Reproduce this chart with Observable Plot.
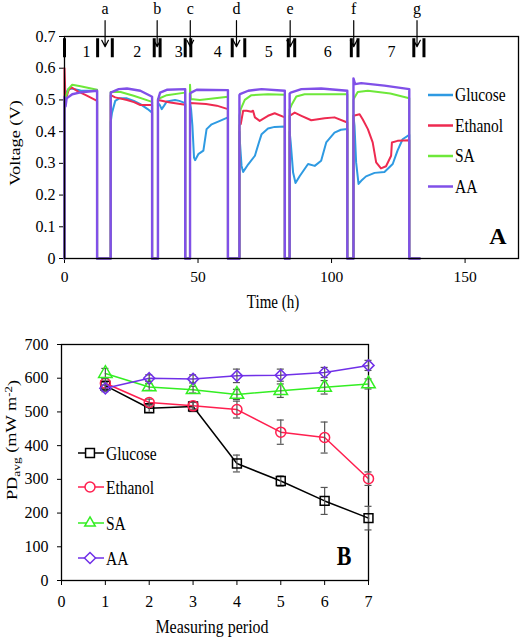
<!DOCTYPE html>
<html><head><meta charset="utf-8">
<script src="https://cdn.jsdelivr.net/npm/d3@7"></script>
<script src="https://cdn.jsdelivr.net/npm/@observablehq/plot@0.6"></script>
<style>
body{margin:0;background:#fff;}
#chart{width:520px;}
svg{display:block;}
#chart svg text, #chart svg tspan{font-family:"Liberation Serif","Times New Roman",serif !important;}
</style>
</head><body><div id="chart"></div>
<script>
const seriesNames = ["Glucose", "Ethanol", "SA", "AA"];
const topColors = ["#2e9ae2", "#ee2a50", "#6ee83a", "#8050e8"];
const bottomColors = ["#000000", "#ff1f4f", "#33ee22", "#7030e8"];

// ---- Panel A: voltage vs time ----
const timeTicks = [0, 50, 100, 150];
const voltTicks = [0, 0.1, 0.2, 0.3, 0.4, 0.5, 0.6, 0.7];
const periodStart = [0, 17.3, 35.0, 47.0, 65.5, 84.3, 108.2];
const periodEnd = [12.2, 32.8, 45.2, 61.2, 82.5, 105.9, 129.1];
const tailEnd = 133;

const glucoseV = [
  [0,0.50],[0.5,0.52],[1.5,0.535],[3,0.535],[6,0.53],[12.2,0.528],
  [17.3,0.43],[17.8,0.46],[19.0,0.497],[20.5,0.505],[23.4,0.505],[26,0.497],[28.4,0.487],[31,0.472],[32.8,0.46],
  [35.0,0.49],[35.6,0.485],[36.4,0.471],[37.3,0.482],[38.3,0.495],[41.4,0.50],[43,0.497],[45.2,0.49],
  [47.0,0.49],[47.4,0.47],[47.9,0.418],[48.5,0.318],[48.9,0.31],[50.1,0.329],[52.0,0.34],[53.2,0.408],[55.1,0.423],[58.2,0.434],[61.2,0.445],
  [65.5,0.40],[65.7,0.366],[66.3,0.292],[66.9,0.273],[68.8,0.297],[71.3,0.324],[72.8,0.366],[73.8,0.392],[76.2,0.41],[78.7,0.415],[82.5,0.416],
  [84.3,0.40],[84.7,0.366],[85.6,0.271],[86.5,0.238],[88.1,0.26],[91.2,0.298],[93.7,0.292],[96.1,0.308],[98.0,0.366],[101.1,0.397],[103.5,0.406],[105.9,0.408],
  [108.2,0.45],[108.6,0.418],[109.2,0.303],[110.1,0.235],[111.1,0.245],[112.9,0.259],[116.1,0.27],[119.8,0.273],[122.9,0.298],[124.7,0.34],[126.6,0.376],[129.1,0.39]
];
const ethanolV = [
  [0,0.60],[0.3,0.52],[0.8,0.51],[1.5,0.53],[2.6,0.54],[5,0.527],[8,0.515],[12.2,0.497],
  [17.3,0.515],[19,0.508],[23.4,0.50],[26,0.493],[28.4,0.484],[32.8,0.484],
  [35.0,0.50],[39.6,0.492],[45.2,0.485],
  [47.0,0.49],[53,0.487],[57.0,0.482],[61.2,0.471],
  [65.5,0.42],[66.0,0.424],[66.9,0.466],[68.2,0.466],[70.0,0.463],[70.6,0.466],[71.3,0.445],[73.1,0.434],[76.2,0.45],[78.7,0.458],[82.5,0.445],
  [84.3,0.45],[86.2,0.46],[88.7,0.45],[92.4,0.436],[97.4,0.442],[101.1,0.445],[105.9,0.429],
  [108.2,0.45],[110.5,0.455],[111.7,0.438],[113.6,0.408],[115.4,0.366],[116.7,0.303],[118.5,0.284],[120.4,0.291],[122.3,0.324],[122.6,0.366],[124.7,0.371],[129.1,0.373]
];
const saV = [
  [0,0.50],[0.5,0.51],[1.5,0.535],[2.9,0.548],[6,0.543],[12.2,0.532],
  [17.3,0.525],[21,0.525],[25.9,0.513],[32.8,0.494],
  [35.0,0.503],[38.3,0.515],[45.2,0.523],
  [47.0,0.548],[47.3,0.503],[50.7,0.50],[61.2,0.51],
  [65.5,0.45],[66.0,0.471],[67.5,0.50],[70.0,0.515],[76.2,0.518],[82.5,0.516],
  [84.3,0.47],[85.0,0.484],[86.8,0.511],[89.9,0.518],[105.9,0.518],
  [108.2,0.50],[108.6,0.508],[109.8,0.525],[113.6,0.529],[122,0.52],[129.1,0.505]
];
const aaV = [
  [0,0.51],[0.4,0.48],[0.8,0.505],[2.9,0.518],[6,0.524],[12.2,0.529],
  [17.3,0.523],[20.3,0.534],[23.4,0.536],[28.4,0.529],[32.1,0.513],[32.8,0.51],
  [35.0,0.50],[35.8,0.523],[38.3,0.532],[45.2,0.534],
  [47.0,0.52],[47.4,0.523],[49.5,0.532],[61.2,0.531],
  [65.5,0.515],[65.7,0.518],[68.8,0.529],[73.8,0.534],[82.5,0.529],
  [84.3,0.52],[84.7,0.523],[88.7,0.534],[96.1,0.536],[105.9,0.529],
  [108.2,0.568],[108.8,0.55],[111.1,0.553],[119.8,0.545],[129.1,0.534]
];
const letterLabels = ["a", "b", "c", "d", "e", "f", "g"];
const letterTimes = [15.2, 34.7, 47.1, 64.4, 84.5, 108.3, 132];
const periodLabels = ["1", "2", "3", "4", "5", "6", "7"];
const periodLabelTimes = [8.2, 27.2, 42.8, 57.4, 76.5, 98.6, 122.4];
const barTimes = [0, 12.4, 17.9, 33.6, 35.8, 45.2, 47.3, 62.8, 67.5, 83.8, 86.2, 107.4, 109.9, 130.8, 134.6];

// ---- Panel B: average power density ----
const periods = [1, 2, 3, 4, 5, 6, 7];
const periodTicks = [0, 1, 2, 3, 4, 5, 6, 7];
const pdTicks = [0, 100, 200, 300, 400, 500, 600, 700];
const glucosePD = [578, 511, 516, 347, 295, 236, 185];
const ethanolPD = [585, 528, 518, 507, 440, 424, 302];
const saPD = [614, 574, 566, 552, 563, 573, 583];
const aaPD = [570, 600, 598, 607, 609, 617, 638];
const glucoseErr = [10, 12, 15, 25, 15, 40, 35];
const ethanolErr = [15, 10, 10, 25, 36, 46, 20];
const saErr = [15, 10, 10, 15, 20, 20, 15];
const aaErr = [10, 10, 12, 20, 18, 15, 15];
const symbols = ["square", "circle", "triangle", "diamond2"];

function buildTrace(pts) {
  const out = [];
  periodStart.forEach((s, i) => {
    const e = periodEnd[i];
    out.push({t: s, v: 0});
    pts.filter(p => p[0] >= s && p[0] <= e).forEach(p => out.push({t: p[0], v: p[1]}));
    out.push({t: e, v: 0});
  });
  out.push({t: tailEnd, v: 0});
  return out;
}
const traces = [glucoseV, ethanolV, saV, aaV].map(buildTrace);

const topSvg = Plot.plot({
  width: 520, height: 320,
  marginLeft: 64, marginRight: 2, marginTop: 36, marginBottom: 62,
  style: {fontSize: "16px", color: "#000", background: "#fff", overflow: "visible"},
  x: {domain: [0, 170]},
  y: {domain: [0, 0.7]},
  marks: [
    Plot.axisX({ticks: timeTicks, tickSize: 5, tickPadding: 7, label: null, fontSize: 15.5}),
    Plot.axisY({ticks: voltTicks, tickSize: 5, tickPadding: 4, tickFormat: d3.format("~g"), label: null, fontSize: 16}),
    ...traces.map((tr, i) => Plot.line(tr, {x: "t", y: "v", stroke: topColors[i], strokeWidth: i === 3 ? 2.4 : 2})),
    Plot.frame({stroke: "#000", strokeWidth: 1.3}),
    Plot.ruleX(barTimes, {x: d => d, y1: d => 0.693, y2: d => 0.633, stroke: "#000", strokeWidth: 3}),
    Plot.arrow(letterTimes, {x1: d => d, x2: d => d, y1: d => 0.75, y2: d => 0.668, stroke: "#000", strokeWidth: 1.2, headLength: 9, headAngle: 55}),
    Plot.text(letterTimes, {x: d => d, frameAnchor: "top", lineAnchor: "middle", dy: -28, text: (d, i) => letterLabels[i], fontSize: 16}),
    Plot.text(periodLabelTimes, {x: d => d, y: d => 0.652, text: (d, i) => periodLabels[i], fontSize: 16})
  ]
});

const rows = [];
[glucosePD, ethanolPD, saPD, aaPD].forEach((vals, si) => {
  const errs = [glucoseErr, ethanolErr, saErr, aaErr][si];
  vals.forEach((v, i) => rows.push({s: si, p: periods[i], v, e: errs[i]}));
});
const seriesMarks = [];
[0, 1, 2, 3].forEach(si => {
  const d = rows.filter(r => r.s === si);
  seriesMarks.push(
    Plot.line(d, {x: "p", y: "v", stroke: bottomColors[si], strokeWidth: 1.5}),
    Plot.ruleX(d, {x: "p", y1: r => r.v - r.e, y2: r => r.v + r.e, stroke: "#555", strokeWidth: 1.2}),
    Plot.ruleY(d, {y: r => r.v + r.e, x1: r => r.p - 0.08, x2: r => r.p + 0.08, stroke: "#555", strokeWidth: 1.2}),
    Plot.ruleY(d, {y: r => r.v - r.e, x1: r => r.p - 0.08, x2: r => r.p + 0.08, stroke: "#555", strokeWidth: 1.2}),
    Plot.dot(d, {x: "p", y: "v", symbol: symbols[si], r: 5, stroke: bottomColors[si], fill: "none", strokeWidth: 1.5})
  );
});

const bottomSvg = Plot.plot({
  width: 520, height: 320,
  marginLeft: 61, marginRight: 152, marginTop: 24, marginBottom: 60,
  style: {fontSize: "16px", color: "#000", background: "#fff", overflow: "visible"},
  x: {domain: [0, 7]},
  y: {domain: [0, 700]},
  marks: [
    Plot.axisX({ticks: periodTicks, tickSize: 5, tickPadding: 10, tickFormat: d3.format("d"), label: null, fontSize: 16}),
    Plot.axisY({ticks: pdTicks, tickSize: 4, tickPadding: 9, tickFormat: d3.format("d"), label: null, fontSize: 16}),
    Plot.frame({stroke: "#000", strokeWidth: 1.3}),
    ...seriesMarks
  ]
});

// ---- annotations: axis titles, legends, panel letters ----
const ts = d3.select(topSvg);
ts.append("text").attr("class", "rot").attr("transform", "translate(19.5,143) rotate(-90)").attr("text-anchor", "middle")
  .style("font-size", "15px").text("Voltage (V)");
ts.append("text").attr("class", "st").attr("x", 273).attr("y", 308).attr("text-anchor", "middle")
  .style("font-size", "15px").text("Time (h)");
ts.append("text").attr("x", 498).attr("y", 243.5).attr("text-anchor", "middle")
  .style("font-size", "24px").style("font-weight", "bold").text("A");
seriesNames.forEach((n, i) => {
  const y = 95 + i * 30.5;
  ts.append("line").attr("x1", 428).attr("x2", 453).attr("y1", y).attr("y2", y)
    .attr("stroke", topColors[i]).attr("stroke-width", 2.5);
  ts.append("text").attr("class", "st").attr("x", 455).attr("y", y + 6).attr("text-anchor", "start")
    .style("font-size", "15.5px").text(n);
});

const bs = d3.select(bottomSvg);
const lbl = bs.append("text").attr("class", "rot").attr("transform", "translate(17,120) rotate(-90)").attr("text-anchor", "middle")
  .style("font-size", "15px");
lbl.append("tspan").text("PD");
lbl.append("tspan").attr("dy", "0.3em").style("font-size", "11px").text("avg");
lbl.append("tspan").attr("dy", "-0.3em").text(" (mW m");
lbl.append("tspan").attr("dy", "-0.4em").style("font-size", "10.5px").text("-2");
lbl.append("tspan").attr("dy", "0.4em").text(")");
bs.append("text").attr("class", "st").attr("x", 212).attr("y", 313).attr("text-anchor", "middle")
  .style("font-size", "16px").text("Measuring period");
bs.append("text").attr("class", "st").attr("x", 344).attr("y", 245).attr("text-anchor", "middle")
  .style("font-size", "22px").style("font-weight", "bold").text("B");
const symTypes = [d3.symbolSquare, d3.symbolCircle, d3.symbolTriangle2, d3.symbolDiamond2];
seriesNames.forEach((n, i) => {
  const y = [133, 167, 203, 238][i];
  bs.append("line").attr("x1", 78).attr("x2", 104).attr("y1", y).attr("y2", y)
    .attr("stroke", bottomColors[i]).attr("stroke-width", 1.5);
  bs.append("path").attr("transform", `translate(90,${y})`)
    .attr("d", d3.symbol(symTypes[i], Math.PI * 25)())
    .attr("fill", "#fff").attr("stroke", bottomColors[i]).attr("stroke-width", 1.5);
  bs.append("text").attr("class", "st").attr("x", 106).attr("y", y + 6.5).attr("text-anchor", "start")
    .style("font-size", "15.5px").text(n);
});

// The reference artwork is stretched vertically; mimic that on the titles and legend texts.
function stretchText(svg, k) {
  svg.querySelectorAll("text.st, text.rot").forEach(t => {
    const tr = t.getAttribute("transform") || "";
    let extra = "";
    if (t.hasAttribute("x") || t.hasAttribute("y")) {
      extra = ` translate(${+t.getAttribute("x") || 0},${+t.getAttribute("y") || 0})`;
      t.removeAttribute("x"); t.removeAttribute("y");
    }
    const sc = t.classList.contains("rot") ? `scale(${k},1)` : `scale(1,${k})`;
    t.setAttribute("transform", `${tr}${extra} ${sc}`);
  });
}
stretchText(topSvg, 1.22);
stretchText(bottomSvg, 1.22);

document.getElementById("chart").append(topSvg, bottomSvg);
</script></body></html>
